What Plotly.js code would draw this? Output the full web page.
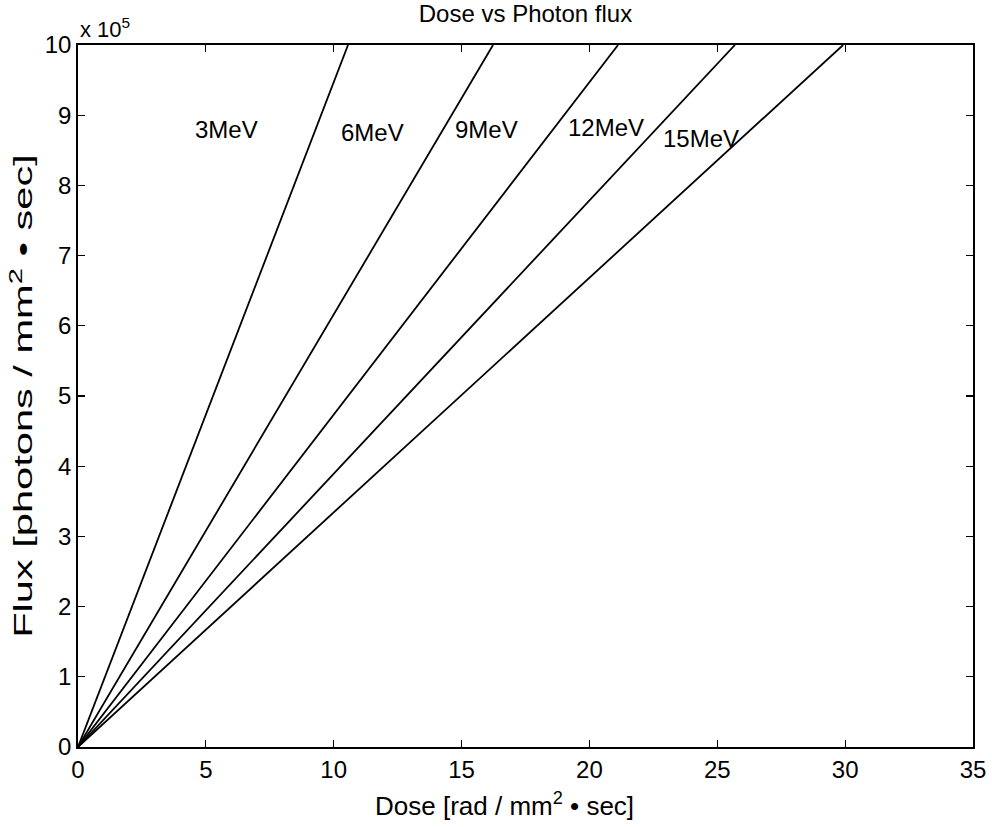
<!DOCTYPE html>
<html>
<head>
<meta charset="utf-8">
<script src="https://cdn.plot.ly/plotly-3.0.1.min.js"></script>
<style>html,body{margin:0;padding:0;background:#fff;}#chart{width:992px;height:827px;}</style>
</head>
<body>
<div id="chart"></div>
<script>
// Energies and dose at which each line reaches flux 10 x 10^5
const energies = ["3MeV", "6MeV", "9MeV", "12MeV", "15MeV"];
const doseAtTop = [10.56, 16.23, 21.12, 25.69, 29.92];
const fluxEnds = [0, 10]; // x 10^5 photons / mm^2 sec
const labelX = [5.79, 11.50, 15.96, 20.65, 24.36];
const labelY = [8.80, 8.75, 8.80, 8.83, 8.67];
const yTicks = [0,1,2,3,4,5,6,7,8,9,10];
const xTicks = [0,5,10,15,20,25,30,35];

const font = "Liberation Sans, Arial, Helvetica, sans-serif";
const traces = energies.map((e, i) => ({
  x: [0, doseAtTop[i]],
  y: fluxEnds,
  mode: "lines",
  line: {color: "#000", width: 1.8},
  name: e,
  showlegend: false,
  hoverinfo: "skip"
}));

const annotations = energies.map((e, i) => ({
  x: labelX[i], y: labelY[i], xref: "x", yref: "y",
  text: e, showarrow: false,
  font: {family: font, size: 24, color: "#000"}
}));
annotations.push({
  xref: "paper", yref: "paper", x: 0, y: 1, xanchor: "left", yanchor: "bottom",
  text: "x 10<sup>5</sup>", showarrow: false, yshift: 1,
  font: {family: font, size: 22, color: "#000"}
});
// x-axis title, drawn slightly left of the plot centre as in the reference
annotations.push({
  xref: "paper", yref: "paper", x: 0.477, y: 0, xanchor: "center", yanchor: "middle",
  yshift: -57, showarrow: false,
  text: "Dose [rad / mm<sup>2</sup> \u2022 sec]",
  font: {family: font, size: 26, color: "#000"}
});

const axisCommon = {
  showgrid: false, zeroline: false, showline: true, linecolor: "#000", linewidth: 1.8,
  mirror: "ticks", ticks: "inside", ticklen: 7, tickwidth: 1.2, tickcolor: "#000",
  tickfont: {family: font, size: 24, color: "#000"}
};

const layout = {
  width: 992, height: 827,
  margin: {l: 78, r: 19, t: 45, b: 80},
  paper_bgcolor: "#fff", plot_bgcolor: "#fff",
  title: {text: "Dose vs Photon flux", font: {family: font, size: 24, color: "#000"}, x: 0.5, xref: "paper", y: 0.983, yanchor: "middle"},
  xaxis: Object.assign({}, axisCommon, {
    range: [0, 35], tickvals: xTicks, automargin: false
  }),
  yaxis: Object.assign({}, axisCommon, {
    range: [0, 10], tickvals: yTicks, automargin: false,
    title: {text: "Flux [photons / mm<sup>2</sup> \u2022 sec]", font: {family: font, size: 26, color: "#000"}, standoff: 4}
  }),
  annotations: annotations
};

Plotly.newPlot("chart", traces, layout, {displayModeBar: false, staticPlot: true}).then(function(gd) {
  // The reference's y-axis title is stretched along its length; reproduce that.
  const t = gd.querySelector("text.ytitle");
  if (t) {
    const x = parseFloat(t.getAttribute("x"));
    const y = parseFloat(t.getAttribute("y"));
    const s = 1.6;
    t.setAttribute("transform", "rotate(-90," + x + "," + y + ") translate(" + x + "," + y + ") scale(" + s + ",1) translate(" + (-x) + "," + (-y) + ")");
  }
});
</script>
</body>
</html>
